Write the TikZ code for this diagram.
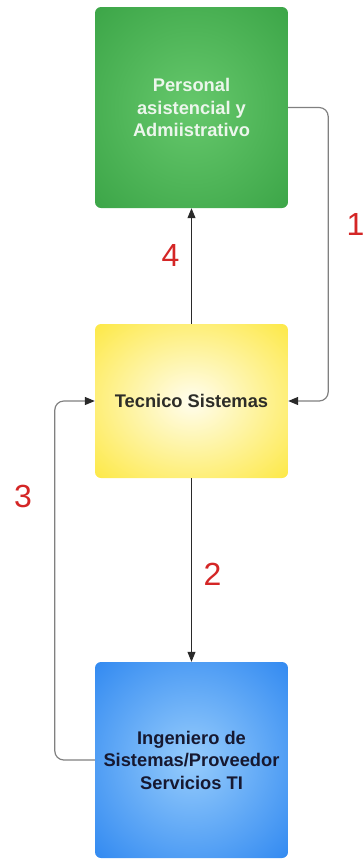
\documentclass[tikz,border=0pt]{standalone}
\usepackage{fontspec}
\setmainfont{Liberation Sans}
\usetikzlibrary{arrows.meta}
\definecolor{gin}{HTML}{66C86C}
\definecolor{gout}{HTML}{39A345}
\definecolor{yin}{HTML}{FFFDEE}
\definecolor{yout}{HTML}{FDE73A}
\definecolor{bin}{HTML}{96CCFC}
\definecolor{bout}{HTML}{2B85F0}
\definecolor{numred}{HTML}{D42626}
\definecolor{graylink}{HTML}{808080}
\definecolor{darklink}{HTML}{2A2A2A}
\pgfdeclareradialshading{greenrad}{\pgfpoint{0bp}{0bp}}{color(0bp)=(gin); color(38bp)=(gout); color(50bp)=(gout)}
\pgfdeclareradialshading{yellowrad}{\pgfpoint{0bp}{0bp}}{color(0bp)=(yin); color(38bp)=(yout); color(50bp)=(yout)}
\pgfdeclareradialshading{bluerad}{\pgfpoint{0bp}{0bp}}{color(0bp)=(bin); color(38bp)=(bout); color(50bp)=(bout)}
\tikzset{
  box/.style={rectangle, rounded corners=6pt, minimum width=193pt, inner sep=0pt,
    align=center, font=\fontsize{18.3}{22.5}\selectfont\bfseries},
  num/.style={text=numred, font=\fontsize{32}{32}\selectfont, inner sep=0pt},
  graylinkstyle/.style={draw=graylink, line width=1.2pt, rounded corners=9pt,
    arrows={-{Triangle[length=10pt,width=8pt,color=darklink]}}},
  darklinkstyle/.style={draw=darklink, line width=1pt, -{Triangle[length=10pt,width=8pt]}}
}
\begin{document}
\begin{tikzpicture}[x=1pt,y=-1pt]
\useasboundingbox (0,0) rectangle (364,860);
\clip (0,0) rectangle (364,860);
\node[box, shading=greenrad, minimum height=201pt, text={rgb,255:red,236;green,246;blue,236}] (g) at (191.5,107.5)
  {Personal\\asistencial y\\Admiistrativo};
\node[box, shading=yellowrad, minimum height=154pt, text={rgb,255:red,45;green,45;blue,40}] (y) at (191.5,401)
  {Tecnico Sistemas};
\node[box, shading=bluerad, minimum height=196pt, text={rgb,255:red,22;green,24;blue,48}] (b) at (191.5,760)
  {Ingeniero de\\Sistemas/Proveedor\\Servicios TI};
\draw[graylinkstyle] (g.east) -- ++(40,0) |- (y.east);
\draw[graylinkstyle] (b.west) -- ++(-40,0) |- (y.west);
\draw[darklinkstyle] (y.north) -- (g.south);
\draw[darklinkstyle] (y.south) -- (b.north);
\node[num] (n1) at (355.5,224) {1};
\node[num] (n4) at (170.5,255) {4};
\node[num] (n3) at (23,496) {3};
\node[num] (n2) at (212.5,574) {2};
\end{tikzpicture}
\end{document}
